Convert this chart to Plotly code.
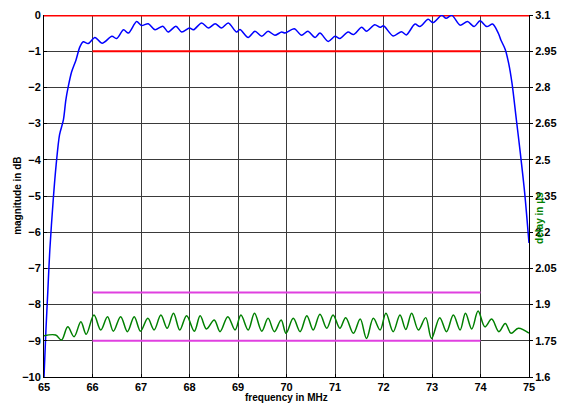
import plotly.graph_objects as go

# Magnitude response (dB) vs frequency (MHz)
mag_freq = [65.00, 65.04, 65.08, 65.12, 65.19, 65.25, 65.32, 65.40, 65.45, 65.50,
            65.57, 65.66, 65.74, 65.81, 65.91, 66.05, 66.20, 66.40, 66.50, 66.64,
            66.74, 66.91, 67.01, 67.15, 67.29, 67.45, 67.56, 67.72, 67.84, 68.00,
            68.08, 68.25, 68.39, 68.53, 68.66, 68.80, 68.97, 69.04, 69.21, 69.35,
            69.49, 69.62, 69.76, 69.90, 69.97, 70.16, 70.31, 70.44, 70.59, 70.69,
            70.86, 71.00, 71.10, 71.27, 71.38, 71.55, 71.65, 71.82, 71.93, 72.00,
            72.20, 72.37, 72.47, 72.65, 72.75, 72.92, 73.02, 73.20, 73.29, 73.41,
            73.58, 73.73, 73.87, 73.99, 74.13, 74.25, 74.37, 74.42, 74.51, 74.58,
            74.65, 74.74, 74.82, 74.91, 75.00]
mag_db = [-10.0, -8.70, -7.60, -6.49, -5.11, -4.14, -3.31, -2.90, -2.35, -1.98,
          -1.57, -1.24, -0.88, -0.74, -0.79, -0.62, -0.78, -0.59, -0.65, -0.41,
          -0.50, -0.18, -0.29, -0.24, -0.41, -0.31, -0.47, -0.31, -0.47, -0.36,
          -0.41, -0.22, -0.36, -0.24, -0.36, -0.22, -0.47, -0.40, -0.62, -0.45,
          -0.59, -0.45, -0.56, -0.47, -0.50, -0.38, -0.56, -0.45, -0.62, -0.50,
          -0.73, -0.59, -0.65, -0.47, -0.54, -0.34, -0.45, -0.27, -0.34, -0.30,
          -0.58, -0.46, -0.55, -0.25, -0.32, -0.12, -0.21, -0.01, -0.09, -0.01,
          -0.28, -0.18, -0.32, -0.16, -0.32, -0.25, -0.51, -0.69, -0.95, -1.33,
          -1.89, -2.90, -3.80, -4.90, -6.30]

# Group delay (us) vs frequency (MHz)
delay_freq = [65.00, 65.24, 65.36, 65.49, 65.62, 65.76, 65.87, 66.03, 66.17, 66.31,
              66.43, 66.58, 66.72, 66.86, 66.99, 67.14, 67.27, 67.41, 67.54, 67.67,
              67.80, 67.94, 68.10, 68.22, 68.35, 68.51, 68.63, 68.79, 68.94, 69.06,
              69.21, 69.34, 69.49, 69.62, 69.75, 69.89, 69.99, 70.14, 70.28, 70.42,
              70.55, 70.69, 70.83, 70.96, 71.10, 71.22, 71.38, 71.52, 71.65, 71.79,
              71.93, 72.05, 72.20, 72.34, 72.46, 72.58, 72.72, 72.87, 72.99, 73.16,
              73.30, 73.44, 73.58, 73.69, 73.82, 73.95, 74.09, 74.23, 74.38, 74.51,
              74.63, 74.78, 75.00]
delay_us = [1.771, 1.774, 1.753, 1.808, 1.767, 1.829, 1.777, 1.857, 1.795, 1.850,
            1.790, 1.850, 1.788, 1.850, 1.790, 1.843, 1.795, 1.857, 1.802, 1.864,
            1.795, 1.854, 1.790, 1.854, 1.799, 1.836, 1.788, 1.850, 1.795, 1.857,
            1.795, 1.864, 1.790, 1.843, 1.788, 1.836, 1.781, 1.843, 1.788, 1.854,
            1.795, 1.860, 1.802, 1.857, 1.802, 1.846, 1.781, 1.840, 1.760, 1.843,
            1.795, 1.864, 1.788, 1.857, 1.797, 1.864, 1.795, 1.846, 1.760, 1.846,
            1.788, 1.857, 1.795, 1.864, 1.799, 1.873, 1.808, 1.840, 1.788, 1.822,
            1.781, 1.802, 1.782]

# Tolerance masks
mag_upper_x = [65, 75]
mag_upper_y = [0, 0]
mag_lower_x = [66, 74]
mag_lower_y = [-1, -1]
delay_upper_x = [66, 74]
delay_upper_y = [1.95, 1.95]
delay_lower_x = [66, 74]
delay_lower_y = [1.75, 1.75]

x_ticks = list(range(65, 76))
y_ticks = list(range(-10, 1))
y2_ticks = [1.6, 1.75, 1.9, 2.05, 2.2, 2.35, 2.5, 2.65, 2.8, 2.95, 3.1]
y2_labels = ["1.6", "1.75", "1.9", "2.05", "2.2", "2.35", "2.5", "2.65", "2.8", "2.95", "3.1"]

fig = go.Figure()
fig.add_trace(go.Scatter(x=mag_upper_x, y=mag_upper_y, mode="lines",
                         line=dict(color="#ff0000", width=3), showlegend=False))
fig.add_trace(go.Scatter(x=mag_lower_x, y=mag_lower_y, mode="lines",
                         line=dict(color="#ff0000", width=2), showlegend=False))
fig.add_trace(go.Scatter(x=mag_freq, y=mag_db, mode="lines",
                         line=dict(color="#0000ff", width=1.5, shape="spline", smoothing=0.8),
                         showlegend=False))
fig.add_trace(go.Scatter(x=delay_upper_x, y=delay_upper_y, mode="lines", yaxis="y2",
                         line=dict(color="#e040e0", width=2), showlegend=False))
fig.add_trace(go.Scatter(x=delay_lower_x, y=delay_lower_y, mode="lines", yaxis="y2",
                         line=dict(color="#e040e0", width=2), showlegend=False))
fig.add_trace(go.Scatter(x=delay_freq, y=delay_us, mode="lines", yaxis="y2",
                         line=dict(color="#008000", width=1.5, shape="spline", smoothing=1.0),
                         showlegend=False))

FAM = "Liberation Sans, Arial, sans-serif"
tickfont = dict(family=FAM, size=11, color="black", weight="bold")
titlefont = dict(family=FAM, size=10, color="black", weight="bold")

fig.update_layout(
    width=561, height=398,
    margin=dict(l=36, r=40, t=7, b=29),
    paper_bgcolor="white", plot_bgcolor="white",
    xaxis=dict(range=[65, 75], tickvals=x_ticks, showgrid=True, gridcolor="#3a3a3a", gridwidth=1,
               showline=True, linecolor="black", linewidth=1, mirror=False, automargin=False,
               ticks="inside", ticklen=3, tickcolor="black",
               tickfont=tickfont, zeroline=False),
    yaxis=dict(range=[-10, 0], tickvals=y_ticks, showgrid=True, gridcolor="#3a3a3a", gridwidth=1,
               showline=True, linecolor="black", linewidth=1, automargin=False,
               ticks="inside", ticklen=3, tickcolor="black",
               tickfont=tickfont, zeroline=False),
    yaxis2=dict(range=[1.6, 3.1], tickvals=y2_ticks, ticktext=y2_labels, overlaying="y", side="right",
                showgrid=False, showline=True, linecolor="black", linewidth=1, automargin=False,
                ticks="outside", ticklen=3, tickcolor="black",
                tickfont=tickfont, zeroline=False),
    annotations=[
        dict(text="frequency in MHz", xref="paper", yref="paper", x=0.5, y=-0.058,
             xanchor="center", yanchor="middle", showarrow=False, font=titlefont),
        dict(text="magnitude in dB", xref="paper", yref="paper", x=-0.056, y=0.5,
             xanchor="center", yanchor="middle", textangle=-90, showarrow=False, font=titlefont),
        dict(text="delay in µs", xref="paper", yref="paper", x=1.023, y=0.44,
             xanchor="center", yanchor="middle", textangle=-90, showarrow=False,
             font=dict(family=FAM, size=10, color="#008000", weight="bold")),
    ],
)

fig.write_html("out.html")
